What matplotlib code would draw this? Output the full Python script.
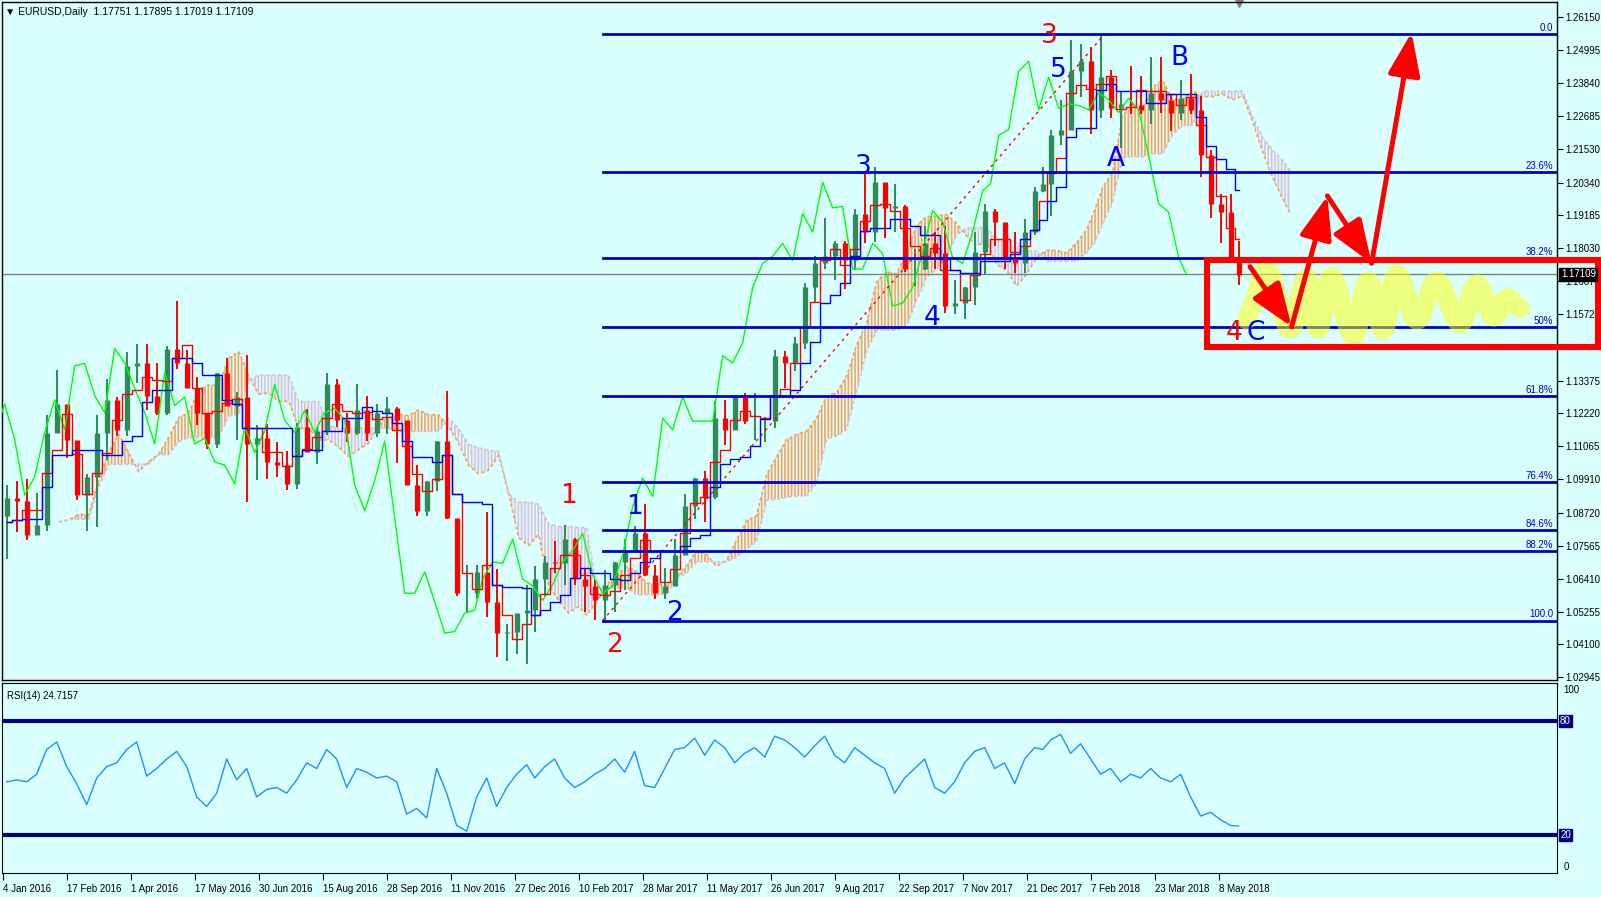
import numpy as np
import pandas as pd
import matplotlib
matplotlib.use('Agg')
from matplotlib import pyplot as plt
from matplotlib.patches import Rectangle, FancyArrowPatch, PathPatch
from matplotlib.path import Path
from matplotlib.transforms import blended_transform_factory

plt.rcParams['font.family'] = ['Liberation Sans', 'DejaVu Sans']
plt.rcParams['hatch.linewidth'] = 1.2

# ---- weekly EURUSD bars ----
week_start = pd.date_range('2016-01-04', periods=125, freq='W-MON')
first_open = 1.0860
highs = [1.0970, 1.0985, 1.0990, 1.0944, 1.1216, 1.1376, 1.1240, 1.1070, 1.1008, 1.1218,
         1.1342, 1.1279, 1.1438, 1.1465, 1.1465, 1.1398, 1.1460, 1.1616, 1.1445, 1.1350,
         1.1215, 1.1365, 1.1416, 1.1299, 1.1428, 1.1180, 1.1186, 1.1120, 1.1090, 1.1190,
         1.1236, 1.1175, 1.1366, 1.1342, 1.1225, 1.1327, 1.1283, 1.1256, 1.1280, 1.1245,
         1.1160, 1.1040, 1.0985, 1.1125, 1.1300, 1.0800, 1.0690, 1.0690, 1.0875, 1.0675,
         1.0480, 1.0505, 1.0620, 1.0685, 1.0720, 1.0775, 1.0830, 1.0785, 1.0680, 1.0640,
         1.0670, 1.0700, 1.0780, 1.0825, 1.0905, 1.0690, 1.0680, 1.0780, 1.0940, 1.0995,
         1.1020, 1.1265, 1.1270, 1.1285, 1.1295, 1.1295, 1.1210, 1.1445, 1.1440, 1.1490,
         1.1680, 1.1775, 1.1910, 1.1830, 1.1830, 1.1940, 1.2070, 1.2090, 1.2000, 1.2030,
         1.1955, 1.1800, 1.1880, 1.1860, 1.1880, 1.1690, 1.1665, 1.1860, 1.1960, 1.1940,
         1.1865, 1.1860, 1.1905, 1.2020, 1.2090, 1.2220, 1.2325, 1.2535, 1.2520, 1.2510,
         1.2555, 1.2430, 1.2355, 1.2445, 1.2410, 1.2475, 1.2475, 1.2345, 1.2395, 1.2415,
         1.2340, 1.2150, 1.1995, 1.1995, 1.1830]
lows = [1.0711, 1.0805, 1.0778, 1.0808, 1.0810, 1.1160, 1.1067, 1.0918, 1.0810, 1.0822,
        1.1058, 1.1144, 1.1144, 1.1330, 1.1233, 1.1215, 1.1218, 1.1380, 1.1310, 1.1180,
        1.1097, 1.1100, 1.1300, 1.1130, 1.0912, 1.0988, 1.0990, 1.1000, 1.0952, 1.0955,
        1.1110, 1.1045, 1.1145, 1.1176, 1.1120, 1.1147, 1.1125, 1.1140, 1.1150, 1.1048,
        1.0970, 1.0860, 1.0860, 1.0950, 1.0850, 1.0580, 1.0520, 1.0570, 1.0505, 1.0365,
        1.0350, 1.0375, 1.0340, 1.0455, 1.0580, 1.0660, 1.0620, 1.0620, 1.0525, 1.0495,
        1.0495, 1.0525, 1.0600, 1.0735, 1.0650, 1.0570, 1.0570, 1.0660, 1.0820, 1.0850,
        1.0840, 1.0920, 1.1110, 1.1165, 1.1185, 1.1130, 1.1120, 1.1170, 1.1310, 1.1370,
        1.1450, 1.1610, 1.1730, 1.1690, 1.1660, 1.1725, 1.1820, 1.1825, 1.1840, 1.1860,
        1.1720, 1.1670, 1.1725, 1.1730, 1.1575, 1.1570, 1.1555, 1.1605, 1.1710, 1.1810,
        1.1730, 1.1715, 1.1715, 1.1850, 1.2000, 1.1915, 1.2165, 1.2220, 1.2335, 1.2205,
        1.2260, 1.2260, 1.2155, 1.2275, 1.2275, 1.2240, 1.2280, 1.2215, 1.2255, 1.2275,
        1.2055, 1.1910, 1.1820, 1.1750, 1.1675]
closes = [1.0925, 1.0915, 1.0795, 1.0830, 1.1155, 1.1255, 1.1130, 1.0935, 1.1000, 1.1155,
          1.1270, 1.1165, 1.1390, 1.1398, 1.1285, 1.1225, 1.1450, 1.1400, 1.1310, 1.1225,
          1.1115, 1.1365, 1.1250, 1.1280, 1.1115, 1.1135, 1.1052, 1.1040, 1.0975, 1.1175,
          1.1085, 1.1160, 1.1325, 1.1198, 1.1155, 1.1233, 1.1155, 1.1225, 1.1240, 1.1200,
          1.0970, 1.0880, 1.0985, 1.1125, 1.0855, 1.0590, 1.0590, 1.0665, 1.0560, 1.0450,
          1.0455, 1.0520, 1.0530, 1.0640, 1.0700, 1.0695, 1.0780, 1.0640, 1.0615, 1.0565,
          1.0620, 1.0700, 1.0740, 1.0800, 1.0655, 1.0590, 1.0615, 1.0725, 1.0895, 1.0995,
          1.0930, 1.1205, 1.1165, 1.1280, 1.1195, 1.1195, 1.1195, 1.1425, 1.1400, 1.1470,
          1.1665, 1.1750, 1.1775, 1.1820, 1.1760, 1.1925, 1.1860, 1.2035, 1.1945, 1.1950,
          1.1730, 1.1730, 1.1820, 1.1785, 1.1600, 1.1610, 1.1665, 1.1790, 1.1935, 1.1895,
          1.1770, 1.1750, 1.1860, 1.2005, 1.2030, 1.2200, 1.2220, 1.2425, 1.2460, 1.2290,
          1.2405, 1.2295, 1.2310, 1.2305, 1.2290, 1.2350, 1.2325, 1.2280, 1.2330, 1.2290,
          1.2130, 1.1960, 1.1930, 1.1770, 1.1710]
rsi_vals = [48, 49, 48, 52, 65, 69, 56, 47, 36, 50, 56, 58, 65, 69, 51, 55, 60, 64, 56, 40,
            35, 42, 60, 49, 55, 40, 44, 45, 42, 49, 58, 55, 65, 60, 45, 55, 53, 50, 51, 48,
            31, 34, 29, 55, 42, 25, 22, 40, 50, 35, 45,
            52, 57, 50, 56, 60, 50, 45, 48, 52, 55, 60, 53, 64, 46, 45, 55, 65, 66, 71, 62,
            70, 66, 58, 63, 66, 61, 72, 70, 66, 61, 67, 72, 62, 58, 66, 62, 58, 55, 42, 50,
            55, 60, 45, 42, 48, 58, 64, 66, 55, 58, 47, 60, 66, 65, 70, 73, 63, 68, 60, 52,
            55, 48, 52, 50, 55, 50, 48, 52, 40, 30, 32, 28, 25, 24.7]

date_labels = ['4 Jan 2016', '17 Feb 2016', '1 Apr 2016', '17 May 2016', '30 Jun 2016',
               '15 Aug 2016', '28 Sep 2016', '11 Nov 2016', '27 Dec 2016', '10 Feb 2017',
               '28 Mar 2017', '11 May 2017', '26 Jun 2017', '9 Aug 2017', '22 Sep 2017',
               '7 Nov 2017', '21 Dec 2017', '7 Feb 2018', '23 Mar 2018', '8 May 2018']
price_ticks = [1.26150, 1.24995, 1.23840, 1.22685, 1.21530, 1.20340, 1.19185, 1.18030,
               1.16875, 1.15720, 1.13375, 1.12220, 1.11065, 1.09910, 1.08720,
               1.07565, 1.06410, 1.05255, 1.04100, 1.02945]

fib_dates = ['2017-02-28', '2018-02-16']
fib_prices = [1.0494, 1.2556]
fib_levels = [0.0, 23.6, 38.2, 50.0, 61.8, 76.4, 84.6, 88.2, 100.0]
fib_names = ['0.0', '23.6%', '38.2%', '50%', '61.8%', '76.4%', '84.6%', '88.2%', '100.0']
last_price = 1.17109

# wave labels: (text, colour, bar, price)
wave_labels = [('1', 'red', 282.7, 1.0932), ('2', 'red', 305.7, 1.0408),
               ('3', 'red', 523.2, 1.2549), ('4', 'red', 615.7, 1.1505),
               ('1', 'blue', 315.7, 1.0893), ('2', 'blue', 335.7, 1.0521),
               ('3', 'blue', 430.2, 1.2088), ('4', 'blue', 464.7, 1.1558),
               ('5', 'blue', 527.7, 1.2430), ('A', 'blue', 556.7, 1.2117),
               ('B', 'blue', 588.2, 1.2472), ('C', 'blue', 626.7, 1.1505)]
arrow_bars = [623.7, 644.5, 662.4, 684.5, 704.5]
arrow_prices = [1.1738, 1.1527, 1.1987, 1.1750, 1.2562]
scribble_bars = [622.0, 632.0, 643.7, 652.0, 657.8, 664.5, 675.3, 682.8, 690.3, 697.0,
                 707.0, 717.0, 728.7, 737.0, 745.3, 752.0, 758.7]
scribble_prices = [1.1551, 1.1725, 1.1520, 1.1698, 1.1520, 1.1703, 1.1495, 1.1688, 1.1516,
                   1.1712, 1.1551, 1.1688, 1.1539, 1.1677, 1.1562, 1.1627, 1.1592]
box_bars = [602.2, 797.7]
box_prices = [1.1456, 1.1762]

holidays = ['2017-01-02', '2017-12-25', '2018-01-01']
start = np.datetime64('2016-01-04')


def bar_of(d):
    return np.busday_count(start, np.asarray(d, dtype='datetime64[D]'), holidays=holidays)


bg = '#d9ffff'
highs = np.array(highs)
lows = np.array(lows)
closes = np.array(closes)
opens = np.r_[first_open, closes[:-1]]
x = bar_of(week_start.values).astype(float) + 2.0
x[-1] -= 1.0

hs = pd.Series(highs)
ls = pd.Series(lows)
tenkan = (hs.rolling(2, min_periods=1).max() + ls.rolling(2, min_periods=1).min()) / 2
kijun = (hs.rolling(5, min_periods=1).max() + ls.rolling(5, min_periods=1).min()) / 2
span_a = ((tenkan + kijun) / 2).values
span_b = ((hs.rolling(10, min_periods=1).max() + ls.rolling(10, min_periods=1).min()) / 2).values
shift = 26

fig = plt.figure(figsize=(16.01, 8.97), dpi=100, facecolor=bg)
ax = fig.add_axes([2 / 1601, 217 / 897, 1555 / 1601, 678 / 897], facecolor=bg)
ax2 = fig.add_axes([2 / 1601, 24 / 897, 1555 / 1601, 190 / 897], facecolor=bg)
xl = (-0.35, 777.2)

# cloud
xs = x + shift
ax.fill_between(xs, span_a, span_b, where=span_a >= span_b, interpolate=True,
                facecolor='none', edgecolor='sandybrown', hatch='|||||', lw=0)
ax.fill_between(xs, span_a, span_b, where=span_a < span_b, interpolate=True,
                facecolor='none', edgecolor='thistle', hatch='|||||', lw=0)
ax.plot(xs, span_a, color='sandybrown', lw=1.2, ls=(0, (2, 1.5)))
ax.plot(xs, span_b, color='thistle', lw=1.2, ls=(0, (2, 1.5)))

# bars
col = np.where(closes >= opens, 'seagreen', 'red')
ax.vlines(x, lows, highs, colors=col, lw=1.4, zorder=3)
ax.vlines(x, np.minimum(opens, closes), np.maximum(opens, closes), colors=col, lw=3.8, zorder=3)

# ichimoku lines
ax.plot(x - shift, closes, color='lime', lw=1, zorder=4)
ax.plot(x, tenkan, color='red', lw=1, zorder=4, drawstyle='steps-mid')
ax.plot(x, kijun, color='blue', lw=1, zorder=4, drawstyle='steps-mid')

# fibonacci
fb = bar_of(fib_dates)
f_hi, f_lo = fib_prices[1], fib_prices[0]
ax.plot(fb, fib_prices, color='red', lw=1, ls=(0, (2, 3)), zorder=4)
for lv, nm in zip(fib_levels, fib_names):
    p = f_hi - (f_hi - f_lo) * lv / 100
    ax.plot([fb[0], xl[1]], [p, p], color='#0000cd', lw=2, zorder=5)
    ax.text(xl[1] - 2, p + 0.0004, nm, color='#0000cd', fontsize=7, ha='right', va='bottom')

ax.axhline(last_price, color='grey', lw=1, zorder=2)

# wave counts
for t, c, bx, py in wave_labels:
    ax.text(bx, py, t, color=c, fontsize=19, ha='center', va='center', zorder=8,
            family='DejaVu Sans')

# scribble: smooth curve that passes through every turning point
pts = np.column_stack([scribble_bars, scribble_prices])
verts = [tuple(pts[0]), tuple((pts[0] + pts[1]) / 2)]
codes = [Path.MOVETO, Path.LINETO]
for i in range(1, len(pts) - 1):
    m1 = (pts[i - 1] + pts[i]) / 2
    m2 = (pts[i] + pts[i + 1]) / 2
    ctrl = 2 * pts[i] - (m1 + m2) / 2
    verts += [tuple(ctrl), tuple(m2)]
    codes += [Path.CURVE3, Path.CURVE3]
verts.append(tuple(pts[-1]))
codes.append(Path.LINETO)
ax.add_patch(PathPatch(Path(verts, codes), fc='none', ec=(1, 1, 0, 0.5), lw=14,
                       capstyle='round', joinstyle='round', zorder=6))

# arrows
for i in range(len(arrow_bars) - 1):
    ax.add_patch(FancyArrowPatch((arrow_bars[i], arrow_prices[i]),
                                 (arrow_bars[i + 1], arrow_prices[i + 1]),
                                 arrowstyle='-|>,head_length=1.2,head_width=0.45',
                                 mutation_scale=22, color='red', lw=3.6,
                                 shrinkA=0, shrinkB=0, zorder=9))

ax.add_patch(Rectangle((box_bars[0], box_prices[0]), box_bars[1] - box_bars[0],
                       box_prices[1] - box_prices[0], fill=False, ec='red', lw=4.4,
                       clip_on=False, zorder=10))

ax.set_xlim(xl)
ax.set_ylim(1.02848, 1.26688)
ax.set_xticks([])
ax.yaxis.tick_right()
ax.set_yticks(price_ticks)
ax.set_yticklabels(['%.5f' % v for v in price_ticks])
ax.tick_params(axis='y', direction='out', length=4, labelsize=7, pad=2)
for s in ax.spines.values():
    s.set_linewidth(1)

tr = blended_transform_factory(ax.transAxes, ax.transData)
ax.text(1.0025, last_price, '%.5f' % last_price, transform=tr, color='white', fontsize=7,
        va='center', ha='left', zorder=11,
        bbox=dict(boxstyle='square,pad=0.15', fc='black', ec='black'))
ax.text(0.002, 0.993, '\u25bc EURUSD,Daily  1.17751 1.17895 1.17019 1.17109',
        transform=ax.transAxes, fontsize=7.5, va='top', ha='left')
ax.plot([x[-1]], [1.2664], marker='v', color='grey', ms=6, clip_on=False)

# RSI panel
ax2.plot(x, rsi_vals, color='dodgerblue', lw=1)
ax2.axhline(80, color='navy', lw=3)
ax2.axhline(20, color='navy', lw=3)
ax2.set_xlim(xl)
ax2.set_ylim(0, 100)
ax2.set_yticks([])
tr2 = blended_transform_factory(ax2.transAxes, ax2.transData)
for lv in (80, 20):
    ax2.text(1.002, lv, str(lv), transform=tr2, color='white', fontsize=7, va='center',
             ha='left', bbox=dict(boxstyle='square,pad=0.1', fc='navy', ec='navy'))
ax2.text(1.004, 96.5, '100', transform=tr2, fontsize=7, va='center', ha='left')
ax2.text(1.004, 3, '0', transform=tr2, fontsize=7, va='center', ha='left')
ax2.text(0.003, 0.96, 'RSI(14) 24.7157', transform=ax2.transAxes, fontsize=7,
         va='top', ha='left')

tick_bars = [32 * i for i in range(len(date_labels))]
ax2.set_xticks(tick_bars)
ax2.set_xticklabels(date_labels, fontsize=7, ha='left')
ax2.tick_params(axis='x', direction='out', length=5, pad=3)

fig.savefig('out.png', dpi=100, facecolor=bg)
